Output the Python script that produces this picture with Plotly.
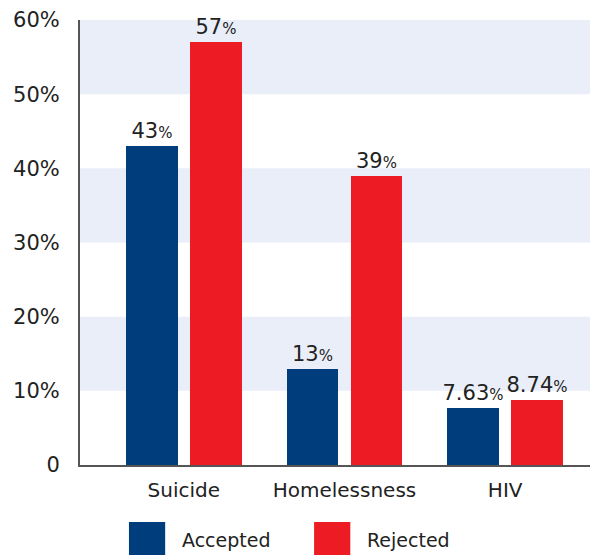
import plotly.graph_objects as go

categories = ["Suicide", "Homelessness", "HIV"]
accepted = [43, 13, 7.63]
rejected = [57, 39, 8.74]
accepted_labels = ["43", "13", "7.63"]
rejected_labels = ["57", "39", "8.74"]
y_ticks = [0, 10, 20, 30, 40, 50, 60]
y_tick_labels = ["0", "10%", "20%", "30%", "40%", "50%", "60%"]
series_names = ["Accepted", "Rejected"]

NAVY = "#003D7C"
RED = "#ED1C24"
BAND = "#EAEEF9"
FONT = "DejaVu Sans"

x = list(range(len(categories)))
off = 0.199
w = 0.323

def lab(s):
    return f"{s}<span style='font-size:15px'>%</span>"

fig = go.Figure()
fig.add_trace(go.Bar(
    x=[i - off for i in x], y=accepted, width=w, marker_color=NAVY, marker_line_width=0,
    text=[lab(s) for s in accepted_labels], textposition="outside", constraintext="none",
    textfont=dict(family=FONT, size=21, color="#222"), cliponaxis=False,
    showlegend=False, name=series_names[0]))
fig.add_trace(go.Bar(
    x=[i + off for i in x], y=rejected, width=w, marker_color=RED, marker_line_width=0,
    text=[lab(s) for s in rejected_labels], textposition="outside", constraintext="none",
    textfont=dict(family=FONT, size=21, color="#222"), cliponaxis=False,
    showlegend=False, name=series_names[1]))

# alternating background bands
for lo in [10, 30, 50]:
    fig.add_shape(type="rect", xref="paper", yref="y", x0=0, x1=1, y0=lo, y1=lo + 10,
                  fillcolor=BAND, line_width=0, layer="below")

# legend drawn as squares + text
leg = [(0.096, 0.167, 0.196, NAVY, series_names[0]),
       (0.459, 0.530, 0.559, RED, series_names[1])]
for x0, x1, tx, col, name in leg:
    fig.add_shape(type="rect", xref="paper", yref="paper", x0=x0, x1=x1, y0=-0.128, y1=-0.205,
                  fillcolor=col, line_width=0)
    fig.add_annotation(xref="paper", yref="paper", x=tx, y=-0.168, text=name, showarrow=False,
                       xanchor="left", yanchor="middle", font=dict(family=FONT, size=19, color="#222"))

fig.update_layout(
    width=590, height=555,
    margin=dict(l=80, r=0, t=20, b=90),
    paper_bgcolor="white", plot_bgcolor="white",
    bargap=0, barmode="overlay",
    font=dict(family=FONT, size=21, color="#222"),
)
fig.update_xaxes(
    range=[-0.646, 2.528], tickvals=x, ticktext=categories,
    showgrid=False, zeroline=False, showline=True, linecolor="#555", linewidth=2,
    ticks="", tickfont=dict(family=FONT, size=20, color="#222"), ticklabelstandoff=6,
)
fig.update_yaxes(
    range=[0, 60], tickvals=y_ticks, ticktext=y_tick_labels,
    showgrid=False, zeroline=False, showline=True, linecolor="#555", linewidth=2,
    ticks="", tickfont=dict(family=FONT, size=21, color="#222"), ticklabelstandoff=14,
)

fig.write_html("out.html")
